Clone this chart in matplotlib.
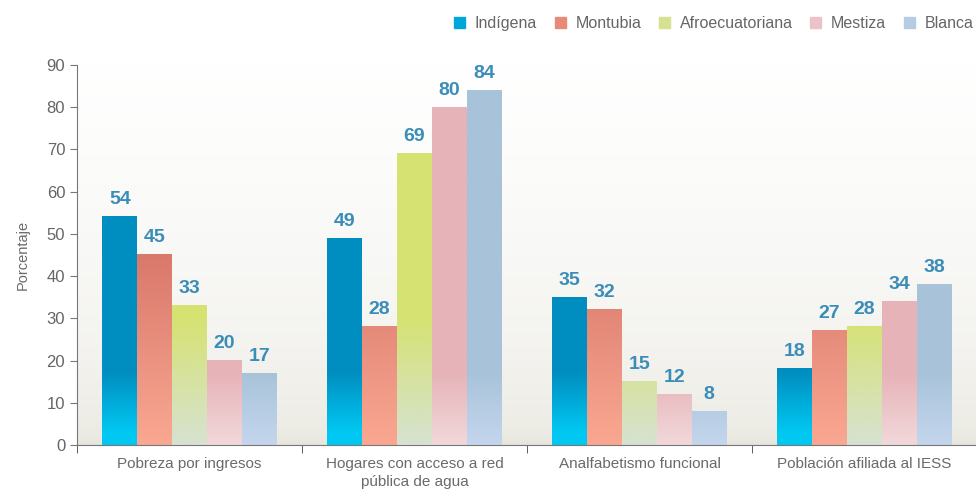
import numpy as np
import matplotlib
matplotlib.use('Agg')
import matplotlib.pyplot as plt
from matplotlib.colors import to_rgb
from matplotlib.patches import Patch

categories = ['Pobreza por ingresos', 'Hogares con acceso a red\npública de agua',
              'Analfabetismo funcional', 'Población afiliada al IESS']
series_names = ['Indígena', 'Montubia', 'Afroecuatoriana', 'Mestiza', 'Blanca']
indigena = [54, 49, 35, 18]
montubia = [45, 28, 32, 27]
afro = [33, 69, 15, 28]
mestiza = [20, 80, 12, 34]
blanca = [17, 84, 8, 38]
values = [indigena, montubia, afro, mestiza, blanca]

# (bottom colour, top colour, value where gradient starts, value where it ends)
grads = [('#00C8F2', '#008EC0', 3, 17),
         ('#FAA892', '#D9786B', 0, 45),
         ('#D6E2D2', '#D6E272', 0, 30),
         ('#F2D8DA', '#E6B3B8', 0, 17),
         ('#C4D6EE', '#A8C3D9', 0, 17)]
legend_cols = ['#00A8D8', '#E88A78', '#D6E290', '#EBC3C6', '#B6CCE2']

plt.rcParams['font.family'] = ['Liberation Sans', 'DejaVu Sans']

fig = plt.figure(figsize=(9.76, 4.93), dpi=100)
ax = fig.add_axes([0.0789, 0.0974, 0.9221, 0.7708])

ax.set_xlim(-0.5, 3.5)
ax.set_ylim(0, 90)

# background gradient
yy = np.linspace(0, 1, 256)[:, None]
top = np.array(to_rgb('#FFFFFF'))
bot = np.array(to_rgb('#E6E5DC'))
t = yy ** 0.45
bg = bot * (1 - t)[..., None] + top * t[..., None]
bg = np.repeat(bg, 2, axis=1)
ax.imshow(bg, extent=(-0.5, 3.5, 0, 90), origin='lower', aspect='auto', zorder=0)

x = np.arange(len(categories))
w = 0.155
for i, (vals, g) in enumerate(zip(values, grads)):
    bars = ax.bar(x + (i - 2) * w, vals, w, color='none', zorder=2)
    c0 = np.array(to_rgb(g[0]))
    c1 = np.array(to_rgb(g[1]))
    for b, v in zip(bars, vals):
        ys = np.linspace(0, v, 200)
        f = np.clip((ys - g[2]) / (g[3] - g[2]), 0, 1)[:, None]
        img = (c0 * (1 - f) + c1 * f)[:, None, :]
        img = np.repeat(img, 2, axis=1)
        ax.imshow(img, extent=(b.get_x(), b.get_x() + b.get_width(), 0, v),
                  origin='lower', aspect='auto', zorder=2)
        ax.annotate(str(v), (b.get_x() + b.get_width() / 2, v), xytext=(0, 9),
                    textcoords='offset points', ha='center', va='baseline',
                    fontsize=14, fontweight='bold', color='#3A8DB8', zorder=3)

ax.set_xlim(-0.5, 3.5)
ax.set_ylim(0, 90)
ax.set_yticks(range(0, 91, 10))
ax.set_xticks(x)
ax.set_xticklabels(categories, linespacing=1.35)
ax.set_xticks([-0.5, 0.5, 1.5, 2.5], minor=True)
ax.tick_params(axis='x', which='major', length=0, pad=9, labelsize=11, labelcolor='#6A6A6A')
ax.tick_params(axis='x', which='minor', length=6, color='#444444', direction='out')
ax.tick_params(axis='y', length=5, color='#777777', labelsize=12, labelcolor='#666666')
for s in ['top', 'right']:
    ax.spines[s].set_visible(False)
for s in ['left', 'bottom']:
    ax.spines[s].set_color('#777777')
ax.set_ylabel('Porcentaje', fontsize=10.5, color='#6A6A6A', labelpad=12)

handles = [Patch(color=c) for c in legend_cols]
fig.legend(handles, series_names, loc='upper right', bbox_to_anchor=(1.012, 0.997),
           ncol=5, frameon=False, fontsize=11.5, handlelength=0.7, handleheight=0.7,
           handletextpad=0.6, columnspacing=1.1, labelcolor='#666666')

fig.savefig('out.png', dpi=100)
